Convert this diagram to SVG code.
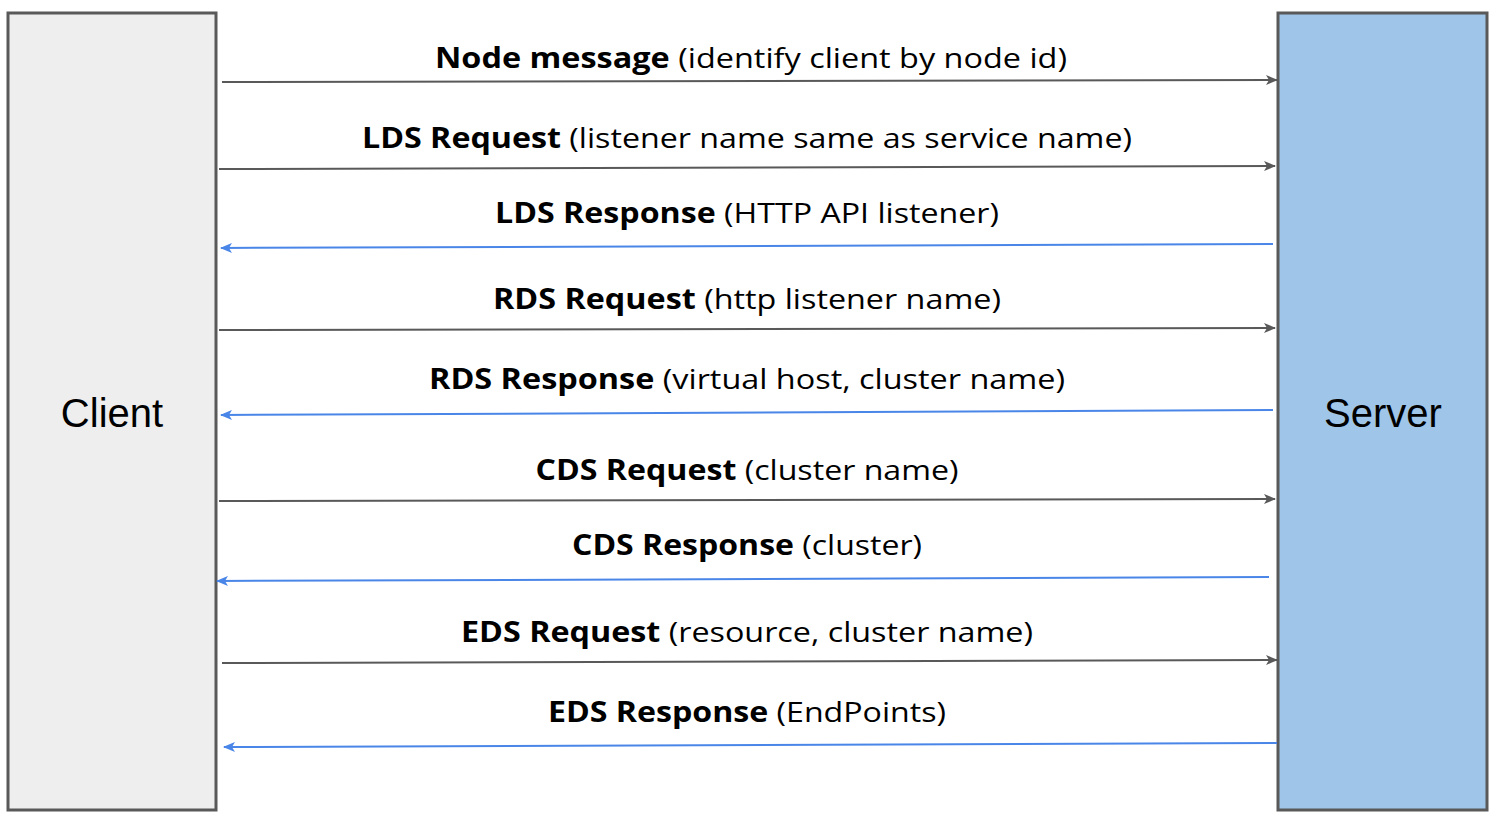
<svg xmlns="http://www.w3.org/2000/svg" width="1502" height="824" viewBox="0 0 1502 824">
<defs>
<marker id="ag" viewBox="0 0 12 10" refX="11" refY="5" markerWidth="12" markerHeight="10" markerUnits="userSpaceOnUse" orient="auto"><path d="M0,0 L12,5 L0,10 L3,5 z" fill="#595959"/></marker>
<marker id="ab" viewBox="0 0 12 10" refX="11" refY="5" markerWidth="12" markerHeight="10" markerUnits="userSpaceOnUse" orient="auto"><path d="M0,0 L12,5 L0,10 L3,5 z" fill="#4a86e8"/></marker>
</defs>
<style>
.box{stroke:#595959;stroke-width:3}
.big{font-family:"Liberation Sans",Arial,sans-serif;font-size:40px;fill:#000;text-anchor:middle}
.lbl{font-family:"Open Sans","DejaVu Sans",sans-serif;font-size:28px;fill:#000;text-anchor:middle}
.lbl tspan.b{font-weight:bold}
.g{stroke:#595959;stroke-width:2;fill:none;marker-end:url(#ag)}
.bl{stroke:#4a86e8;stroke-width:2;fill:none;marker-end:url(#ab)}
</style>
<rect width="1502" height="824" fill="#fff"/>
<g id="client"><rect class="box" x="8" y="13" width="208" height="797" fill="#eeeeee"/><text class="big" x="112" y="427">Client</text></g>
<g id="server"><rect class="box" x="1278" y="13" width="209" height="797" fill="#9fc5e8"/><text class="big" x="1383" y="427">Server</text></g>
<g id="connectors">
<line class="g" x1="222" y1="82" x2="1277" y2="80"/>
<line class="g" x1="219" y1="169" x2="1275" y2="166"/>
<line class="bl" x1="1273" y1="244" x2="221" y2="248"/>
<line class="g" x1="219" y1="330" x2="1275" y2="328"/>
<line class="bl" x1="1273" y1="410" x2="221" y2="415"/>
<line class="g" x1="219" y1="501" x2="1275" y2="499"/>
<line class="bl" x1="1269" y1="577" x2="217" y2="581"/>
<line class="g" x1="222" y1="663" x2="1277" y2="660"/>
<line class="bl" x1="1277" y1="743" x2="224" y2="747"/>
</g>
<g id="labels">
<text class="lbl" x="751" y="68" textLength="632" lengthAdjust="spacingAndGlyphs"><tspan class="b">Node message</tspan> (identify client by node id)</text>
<text class="lbl" x="747" y="148" textLength="770" lengthAdjust="spacingAndGlyphs"><tspan class="b">LDS Request</tspan> (listener name same as service name)</text>
<text class="lbl" x="747" y="223" textLength="504" lengthAdjust="spacingAndGlyphs"><tspan class="b">LDS Response</tspan> (HTTP API listener)</text>
<text class="lbl" x="747" y="309" textLength="508" lengthAdjust="spacingAndGlyphs"><tspan class="b">RDS Request</tspan> (http listener name)</text>
<text class="lbl" x="747" y="389" textLength="636" lengthAdjust="spacingAndGlyphs"><tspan class="b">RDS Response</tspan> (virtual host, cluster name)</text>
<text class="lbl" x="747" y="480" textLength="423" lengthAdjust="spacingAndGlyphs"><tspan class="b">CDS Request</tspan> (cluster name)</text>
<text class="lbl" x="747" y="555" textLength="350" lengthAdjust="spacingAndGlyphs"><tspan class="b">CDS Response</tspan> (cluster)</text>
<text class="lbl" x="747" y="642" textLength="572" lengthAdjust="spacingAndGlyphs"><tspan class="b">EDS Request</tspan> (resource, cluster name)</text>
<text class="lbl" x="747" y="722" textLength="398" lengthAdjust="spacingAndGlyphs"><tspan class="b">EDS Response</tspan> (EndPoints)</text>
</g>
</svg>
